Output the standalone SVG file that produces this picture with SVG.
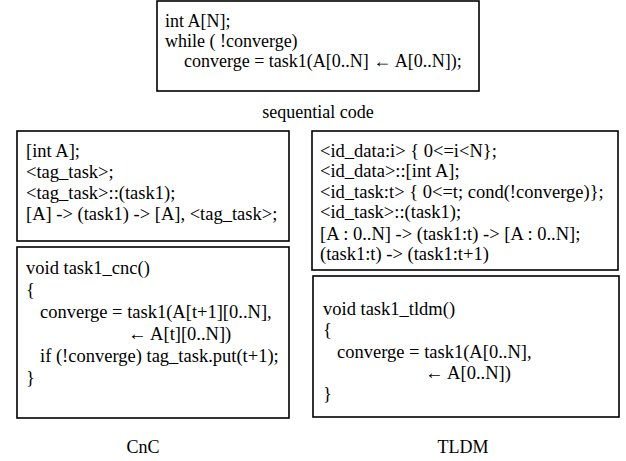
<svg xmlns="http://www.w3.org/2000/svg" width="626" height="461" viewBox="0 0 626 461">
<style>
.box{fill:#fff;stroke:#000;stroke-width:1.6}
text{font-family:"Liberation Serif","Times New Roman",serif;font-size:18px;fill:#000}
.code text{font-size:18.5px}
.lbl{text-anchor:middle}
</style>
<rect width="626" height="461" fill="#fff"/>
<g id="seq">
<rect class="box" x="157" y="1" width="322" height="90"/>
<text x="165" y="27">int A[N];</text>
<text x="165" y="47">while ( !converge)</text>
<text x="184" y="67">converge = task1(A[0..N] ← A[0..N]);</text>
</g>
<text id="seq-label" class="lbl" x="318" y="118">sequential code</text>
<g id="cnc-graph" class="code">
<rect class="box" x="17" y="131" width="272" height="110"/>
<text x="26" y="157">[int A];</text>
<text x="26" y="178">&lt;tag_task&gt;;</text>
<text x="26" y="199">&lt;tag_task&gt;::(task1);</text>
<text x="26" y="220">[A] -&gt; (task1) -&gt; [A], &lt;tag_task&gt;;</text>
</g>
<g id="cnc-code" class="code">
<rect class="box" x="17" y="247" width="272" height="171"/>
<text x="26" y="274">void task1_cnc()</text>
<text x="26" y="296">{</text>
<text x="40" y="318">converge = task1(A[t+1][0..N],</text>
<text x="128" y="340">← A[t][0..N])</text>
<text x="40" y="362">if (!converge) tag_task.put(t+1);</text>
<text x="26" y="384">}</text>
</g>
<g id="tldm-graph" class="code">
<rect class="box" x="312" y="131" width="306" height="139"/>
<text x="320" y="157">&lt;id_data:i&gt; { 0&lt;=i&lt;N};</text>
<text x="320" y="177">&lt;id_data&gt;::[int A];</text>
<text x="320" y="198">&lt;id_task:t&gt; { 0&lt;=t; cond(!converge)};</text>
<text x="320" y="218">&lt;id_task&gt;::(task1);</text>
<text x="320" y="240">[A : 0..N] -&gt; (task1:t) -&gt; [A : 0..N];</text>
<text x="320" y="260">(task1:t) -&gt; (task1:t+1)</text>
</g>
<g id="tldm-code" class="code">
<rect class="box" x="313" y="276" width="306" height="141"/>
<text x="323" y="315">void task1_tldm()</text>
<text x="323" y="336">{</text>
<text x="337" y="358">converge = task1(A[0..N],</text>
<text x="425" y="379">← A[0..N])</text>
<text x="323" y="400">}</text>
</g>
<text id="cnc-label" class="lbl" x="143" y="453">CnC</text>
<text id="tldm-label" class="lbl" x="463" y="453">TLDM</text>
<g id="connectors"/>
</svg>
